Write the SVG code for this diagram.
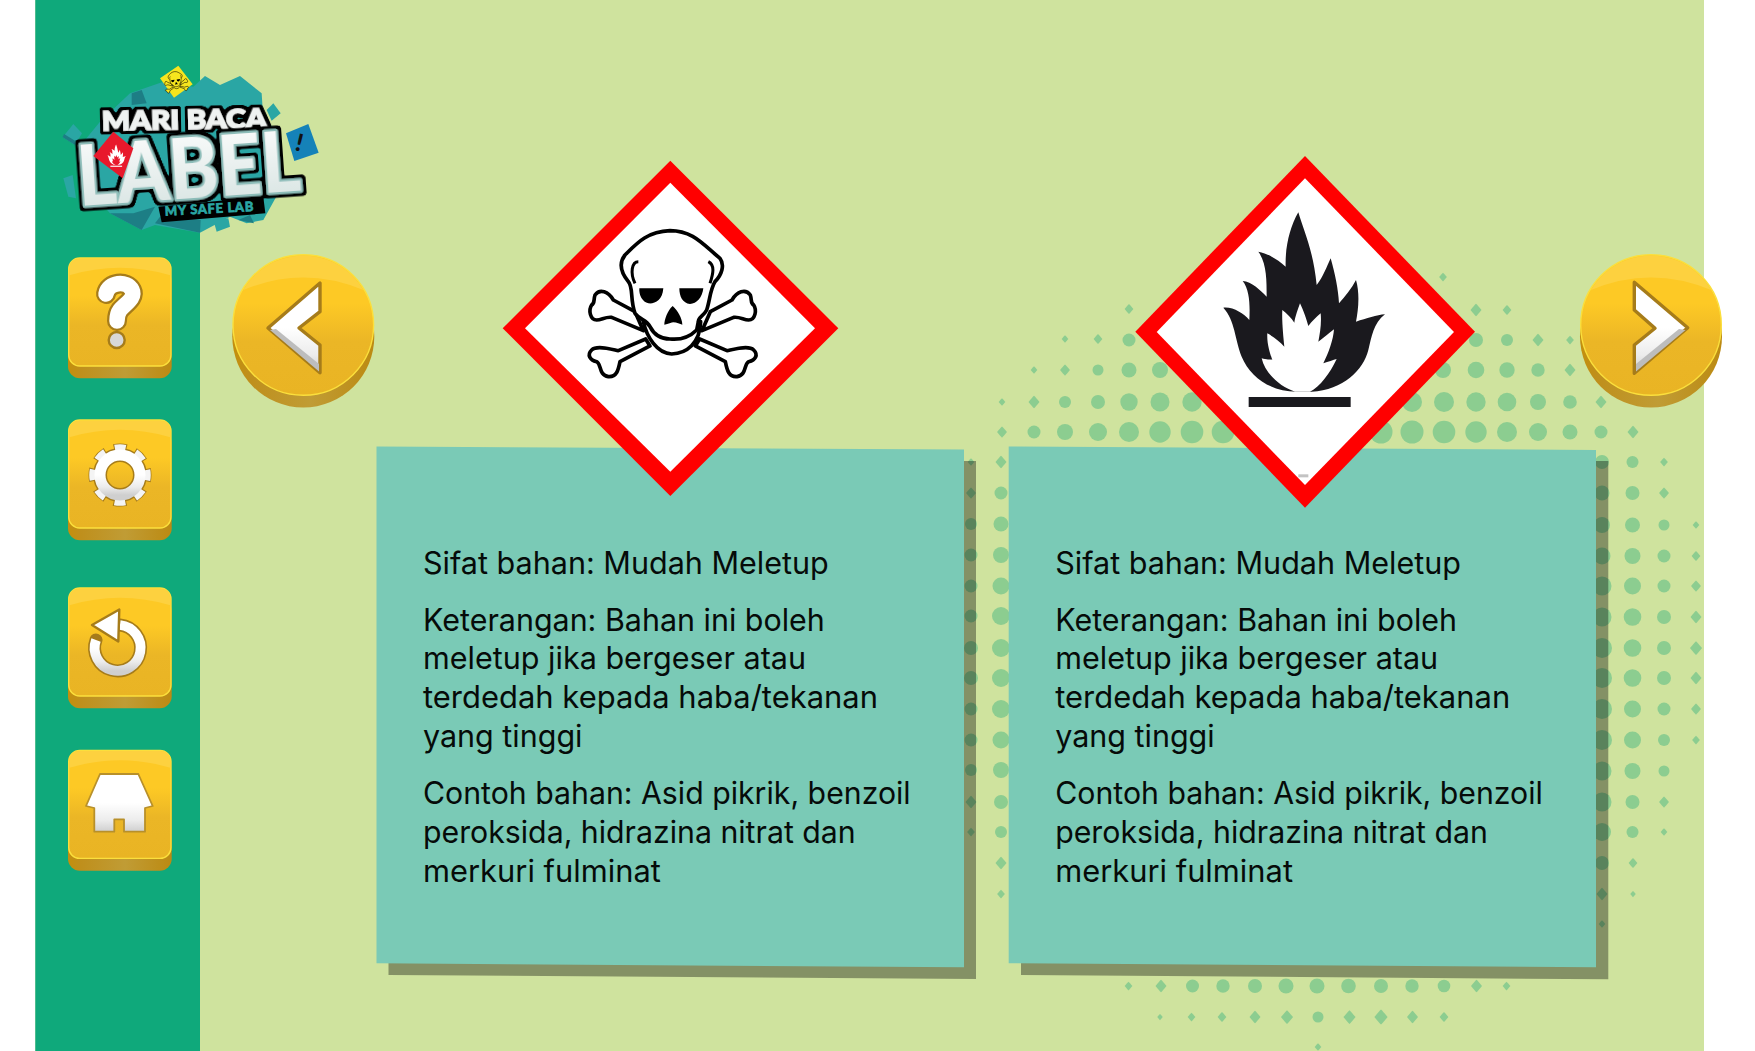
<svg xmlns="http://www.w3.org/2000/svg" width="1755" height="1051" viewBox="0 0 1755 1051">
<style>
.dots{fill:#8ccd90}
.panel{fill:#7acab6}
.shadow{fill:#000;fill-opacity:.36}
.body{font-family:"Inter","Noto Sans",sans-serif;font-size:31px;fill:#060b09}
.red{fill:#f00}
.white{fill:#fff}
.ol{stroke:#a67c1a;stroke-linejoin:round;stroke-linecap:round}
.logo{font-family:"Lato","Liberation Sans",sans-serif;font-weight:900}
.bone{fill:var(--bone,#fff);stroke:#000;stroke-width:11;stroke-linejoin:round}
.teal{fill:#2aa6a4}
.dteal{fill:#1d7e85}
</style>
<defs>
<linearGradient id="face" x1="0" y1="0" x2="0" y2="1"><stop offset="0" stop-color="#fdc925"/><stop offset=".35" stop-color="#fdc925"/><stop offset=".62" stop-color="#ebb626"/><stop offset="1" stop-color="#e9b424"/></linearGradient>
<linearGradient id="side" x1="0" y1="0" x2="1" y2="0"><stop offset="0" stop-color="#c48f0c"/><stop offset=".12" stop-color="#bf8f1c"/><stop offset=".55" stop-color="#c09c35"/><stop offset="1" stop-color="#bc8a12"/></linearGradient>
<linearGradient id="ic" x1="0" y1="0" x2="0" y2="1"><stop offset="0" stop-color="#fff"/><stop offset=".5" stop-color="#fff"/><stop offset=".8" stop-color="#ececec"/><stop offset="1" stop-color="#cfcfcf"/></linearGradient>
<linearGradient id="lbf" x1="0" y1="0" x2="0" y2="1"><stop offset="0" stop-color="#fff"/><stop offset="1" stop-color="#d5e2e0"/></linearGradient>
<path id="d" d="M0-1.25Q.3-1 1.1 0 .3 1 0 1.25-.3 1-1.1 0-.3-1 0-1.25Z"/>
<g id="btn">
<rect y="12" width="103.7" height="109" rx="12" fill="url(#side)"/>
<rect x=".7" y=".7" width="102.3" height="108" rx="11" fill="url(#face)" stroke="#fbdf3c" stroke-width="1.4"/>
<path d="M1.4 18V12Q1.4 1.4 12 1.4H92Q102.3 1.4 102.3 12V18Q52 3 1.4 18Z" fill="#fdd13f"/>
</g>
<g id="rb">
<circle cy="11.5" r="71" fill="url(#side)"/>
<circle r="70.3" fill="url(#face)" stroke="#fbdf3c" stroke-width="1.4"/>
<path d="M-60-35A69.5 69.5 0 0 1 60-35Q0-60-60-35Z" fill="#fdd13f"/>
</g>
<g id="skull">
<path class="bone" d="M465 515L400 480C385 455 360 445 345 465C340 480 345 490 335 495C325 510 330 540 350 540C365 540 375 530 395 532L490 572Z"/>
<path class="bone" transform="translate(1156 0) scale(-1 1)" d="M465 515L400 480C385 455 360 445 345 465C340 480 345 490 335 495C325 510 330 540 350 540C365 540 375 530 395 532L490 572Z"/>
<path class="bone" d="M497 597L415 632C395 628 350 615 335 630C320 645 330 660 350 665C365 672 355 705 385 710C410 712 415 690 420 665L510 618Z"/>
<path class="bone" transform="translate(1156 0) scale(-1 1)" d="M497 597L415 632C395 628 350 615 335 630C320 645 330 660 350 665C365 672 355 705 385 710C410 712 415 690 420 665L510 618Z"/>
<path class="bone" d="M490 545C500 590 530 640 575 642C620 640 660 610 662 545Z"/>
<path class="bone" d="M465 520C450 480 460 440 445 425C425 400 415 370 435 345C470 310 500 275 570 272C640 272 670 315 720 355C735 375 725 405 705 425C690 450 690 480 680 510C670 530 655 530 655 545L650 570C630 590 600 600 570 597C540 597 520 580 510 560C500 540 480 540 465 520Z"/>
<path d="M475 365C455 365 450 400 465 430M685 365C705 375 700 400 690 430" fill="none" stroke="#000" stroke-width="9"/>
<path d="M478 445L550 445C547 482 525 492 505 490C488 487 476 465 478 445ZM598 445L670 445C667 472 650 492 630 492C608 490 598 470 598 445ZM578 498C563 510 553 540 553 554C565 552 575 547 580 547C590 547 600 552 607 554C607 535 592 510 578 498Z"/>
</g>
<path id="flame" d="M340 503C370 500 400 520 418 540C420 500 420 450 398 423C425 425 450 450 470 470C470 420 470 370 445 335C475 340 505 360 527 380C525 320 540 260 565 217C580 270 610 330 620 435C640 410 650 380 662 355C675 400 685 450 687 490C705 470 725 445 738 420C750 460 745 510 738 545C770 535 800 525 825 523C790 550 785 590 775 630C760 690 700 750 605 755L560 755C480 755 420 710 395 650C375 600 375 540 340 503Z"/>
<path id="flamein" d="M555 755C510 740 465 700 455 655C470 660 485 658 487 660C480 640 470 610 472 580C490 590 510 605 523 620C520 590 515 540 517 510C530 520 545 535 553 548C555 530 565 505 570 490C580 510 590 540 595 558C605 545 620 530 632 520C635 550 630 580 625 605C640 595 655 580 672 568C670 600 655 640 640 670C655 665 670 660 680 657C660 700 630 740 600 755Z"/>
<filter id="halo" x="-15%" y="-30%" width="130%" height="160%">
<feMorphology in="SourceAlpha" operator="dilate" radius="9"/>
<feGaussianBlur stdDeviation="3"/>
<feComponentTransfer result="h"><feFuncA type="linear" slope="6" intercept="-2"/></feComponentTransfer>
<feMerge><feMergeNode in="h"/><feMergeNode in="SourceGraphic"/></feMerge>
</filter>
</defs>

<g id="background">
<rect width="1755" height="1051" fill="#fff"/>
<rect x="35.3" width="1668.7" height="1051" fill="#cfe39e"/>
<rect x="35.3" width="164.7" height="1051" fill="#0fa97b"/>
</g>

<g id="halftone" class="dots">
<use href="#d" transform="translate(1443 277) scale(3.5)"/>
<use href="#d" transform="translate(1129 309) scale(4)"/><use href="#d" transform="translate(1476 310) scale(5)"/><use href="#d" transform="translate(1507 310) scale(4)"/>
<use href="#d" transform="translate(1065 339) scale(3)"/><use href="#d" transform="translate(1098 339) scale(4)"/><circle cx="1129" cy="340" r="6.5"/><circle cx="1476" cy="340" r="7"/><circle cx="1507" cy="340" r="6"/><use href="#d" transform="translate(1538 340) scale(5)"/><use href="#d" transform="translate(1570 340) scale(3.5)"/>
<use href="#d" transform="translate(1034 370) scale(3)"/><use href="#d" transform="translate(1065 370) scale(4.5)"/><circle cx="1098" cy="370" r="5.5"/><circle cx="1129" cy="370" r="7.5"/><circle cx="1160" cy="370" r="8"/><circle cx="1443" cy="370" r="8"/><circle cx="1476" cy="370" r="8.3"/><circle cx="1507" cy="370" r="7.7"/><circle cx="1538" cy="370" r="6.7"/><use href="#d" transform="translate(1570 370) scale(5)"/>
<use href="#d" transform="translate(1002 402) scale(3)"/><use href="#d" transform="translate(1034 402) scale(5)"/><circle cx="1065" cy="402" r="6"/><circle cx="1098" cy="402" r="7"/><circle cx="1129" cy="402" r="8.7"/><circle cx="1160" cy="402" r="9.5"/><circle cx="1192" cy="402" r="9.7"/><circle cx="1412" cy="402" r="10"/><circle cx="1444" cy="402" r="10"/><circle cx="1476" cy="402" r="9.7"/><circle cx="1507" cy="402" r="9.3"/><circle cx="1538" cy="402" r="8"/><circle cx="1570" cy="402" r="6.8"/><use href="#d" transform="translate(1601 402) scale(5)"/>
<use href="#d" transform="translate(1002 432) scale(4.5)"/><circle cx="1034" cy="432" r="6.5"/><circle cx="1065" cy="432" r="8"/><circle cx="1098" cy="432" r="9"/><circle cx="1129" cy="432" r="10"/><circle cx="1160" cy="432" r="10.7"/><circle cx="1192" cy="432" r="11.3"/><circle cx="1223" cy="432" r="11.3"/><circle cx="1381" cy="432" r="11.5"/><circle cx="1412" cy="432" r="11.5"/><circle cx="1444" cy="432" r="11.3"/><circle cx="1476" cy="432" r="10.7"/><circle cx="1507" cy="432" r="10"/><circle cx="1538" cy="432" r="9"/><circle cx="1570" cy="432" r="7.5"/><circle cx="1601" cy="432" r="6.5"/><use href="#d" transform="translate(1633 432) scale(5)"/>
<use href="#d" transform="translate(971 462) scale(3)"/><use href="#d" transform="translate(971 493) scale(4.5)"/><circle cx="971" cy="524" r="6"/><circle cx="971" cy="555" r="6.5"/><circle cx="971" cy="586" r="6.5"/><circle cx="971" cy="616" r="6.5"/><circle cx="971" cy="648" r="7"/><circle cx="971" cy="678" r="7"/><circle cx="971" cy="709" r="6.5"/><circle cx="971" cy="740" r="6.5"/><circle cx="971" cy="770" r="6"/><use href="#d" transform="translate(971 802) scale(5)"/><use href="#d" transform="translate(971 832) scale(3.5)"/>
<use href="#d" transform="translate(1001 462) scale(5)"/><circle cx="1001" cy="493" r="6.5"/><circle cx="1001" cy="524" r="7.5"/><circle cx="1001" cy="555" r="8"/><circle cx="1001" cy="586" r="8.5"/><circle cx="1001" cy="616" r="9"/><circle cx="1001" cy="648" r="9"/><circle cx="1001" cy="678" r="9"/><circle cx="1001" cy="709" r="9"/><circle cx="1001" cy="740" r="8.5"/><circle cx="1001" cy="770" r="8"/><circle cx="1001" cy="802" r="7"/><circle cx="1001" cy="832" r="6"/><use href="#d" transform="translate(1001 863) scale(5)"/><use href="#d" transform="translate(1001 894) scale(3.5)"/>
<circle cx="1602" cy="462" r="7"/><circle cx="1602" cy="493" r="7.5"/><circle cx="1602" cy="525" r="8"/><circle cx="1602" cy="556" r="8.5"/><circle cx="1602" cy="586" r="9.5"/><circle cx="1602" cy="617" r="9.5"/><circle cx="1602" cy="648" r="10"/><circle cx="1602" cy="678" r="10"/><circle cx="1602" cy="709" r="10"/><circle cx="1602" cy="740" r="10"/><circle cx="1602" cy="771" r="9.5"/><circle cx="1602" cy="802" r="9.5"/><circle cx="1602" cy="832" r="9"/><circle cx="1602" cy="863" r="7"/><use href="#d" transform="translate(1602 894) scale(5)"/><use href="#d" transform="translate(1602 924) scale(3)"/>
<circle cx="1632.5" cy="462" r="6"/><circle cx="1632.5" cy="493" r="7"/><circle cx="1632.5" cy="525" r="7.5"/><circle cx="1632.5" cy="556" r="8"/><circle cx="1632.5" cy="586" r="8.5"/><circle cx="1632.5" cy="617" r="8.8"/><circle cx="1632.5" cy="648" r="8.8"/><circle cx="1632.5" cy="678" r="8.8"/><circle cx="1632.5" cy="709" r="8.5"/><circle cx="1632.5" cy="740" r="8.5"/><circle cx="1632.5" cy="771" r="8"/><circle cx="1632.5" cy="802" r="7"/><circle cx="1632.5" cy="832" r="6"/><use href="#d" transform="translate(1633 863) scale(4)"/><use href="#d" transform="translate(1633 894) scale(2.5)"/>
<use href="#d" transform="translate(1664 462) scale(3.5)"/><use href="#d" transform="translate(1664 493) scale(4.5)"/><circle cx="1664" cy="525" r="5.5"/><circle cx="1664" cy="556" r="6.5"/><circle cx="1664" cy="586" r="6.5"/><circle cx="1664" cy="617" r="7"/><circle cx="1664" cy="648" r="7"/><circle cx="1664" cy="678" r="7"/><circle cx="1664" cy="709" r="6.5"/><circle cx="1664" cy="740" r="6"/><circle cx="1664" cy="771" r="5.5"/><use href="#d" transform="translate(1664 802) scale(4.5)"/><use href="#d" transform="translate(1664 832) scale(3)"/>
<use href="#d" transform="translate(1696 525) scale(3)"/><use href="#d" transform="translate(1696 556) scale(4)"/><use href="#d" transform="translate(1696 586) scale(4.5)"/><use href="#d" transform="translate(1696 617) scale(5)"/><use href="#d" transform="translate(1696 648) scale(5.5)"/><use href="#d" transform="translate(1696 678) scale(5)"/><use href="#d" transform="translate(1696 709) scale(4.5)"/><use href="#d" transform="translate(1696 740) scale(3.5)"/>
<use href="#d" transform="translate(1128.5 986) scale(3.5)"/><use href="#d" transform="translate(1161 986) scale(5)"/><circle cx="1192.5" cy="986" r="6.5"/><circle cx="1223" cy="986" r="6.7"/><circle cx="1255" cy="986" r="7"/><circle cx="1286" cy="986" r="7.5"/><circle cx="1317" cy="986" r="7.5"/><circle cx="1348.5" cy="986" r="7.3"/><circle cx="1381" cy="986" r="7"/><circle cx="1412" cy="986" r="6.7"/><circle cx="1444" cy="986" r="6.3"/><use href="#d" transform="translate(1476.5 986) scale(5)"/><use href="#d" transform="translate(1506.5 986) scale(3.5)"/>
<use href="#d" transform="translate(1160 1017) scale(2.5)"/><use href="#d" transform="translate(1191.5 1017) scale(3.5)"/><use href="#d" transform="translate(1222 1017) scale(4)"/><use href="#d" transform="translate(1255 1017) scale(5)"/><use href="#d" transform="translate(1287 1017) scale(5.5)"/><circle cx="1318" cy="1017" r="5.5"/><use href="#d" transform="translate(1349.5 1017) scale(5.5)"/><use href="#d" transform="translate(1381 1017) scale(6)"/><use href="#d" transform="translate(1412.5 1017) scale(5)"/><use href="#d" transform="translate(1444 1017) scale(4)"/>
<use href="#d" transform="translate(1318 1047) scale(3)"/>
</g>

<g id="logo" transform="translate(50 50) scale(.33333)">
<polygon class="teal" points="105,270 150,215 240,130 340,95 430,110 465,78 510,105 570,78 635,130 640,210 690,245 690,420 640,510 590,520 540,500 450,548 315,525 275,540 180,490 100,400"/>
<polygon class="dteal" points="180,490 275,540 315,470 250,490"/><polygon class="dteal" points="315,520 450,548 452,510 330,500"/><polygon class="dteal" points="245,130 245,165 290,160 275,120"/><polygon class="dteal" points="565,510 612,520 600,495"/>
<polygon class="teal" points="38,262 70,222 96,250 75,285"/><polygon class="dteal" points="38,262 75,285 75,272 42,252"/>
<polygon class="teal" points="670,160 692,190 665,212 650,180"/>
<polygon class="teal" points="40,385 68,375 78,445 55,440"/>
<polygon class="teal" points="490,510 535,505 540,530 500,545"/>
<polygon fill="#1582b8" points="775,222 806,308 733,333 708,250"/>
<text class="logo" x="732" y="302" font-size="72" transform="rotate(14 740 302)" fill="#111">!</text>
<text class="logo" x="155" y="236" font-size="82" textLength="495" lengthAdjust="spacingAndGlyphs" fill="#eff2f1" stroke="#eff2f1" stroke-width="4" filter="url(#halo)" transform="rotate(-1 400 210)">MARI BACA</text>
<polygon fill="#000" points="325,470 640,440 646,490 335,517"/>
<text class="logo" x="345" y="497" font-size="40" textLength="268" lengthAdjust="spacingAndGlyphs" transform="rotate(-3 345 497)" fill="#2aa6a4" stroke="#2aa6a4" stroke-width="2" letter-spacing="2">MY SAFE LAB</text>
<text class="logo" x="88" y="468" font-size="250" textLength="670" lengthAdjust="spacingAndGlyphs" fill="url(#lbf)" stroke="#8dbdb9" stroke-width="14" stroke-linejoin="round" paint-order="stroke" filter="url(#halo)" transform="rotate(-4 88 468)">LABEL</text>
<polygon fill="#f7e51e" points="385,47 428,103 372,143 330,85"/>
<use href="#skull" style="--bone:#f7e51e" transform="translate(378 95) rotate(-8) scale(.14) translate(-578 -490)"/>
<polygon fill="#e8192c" points="190,245 250,295 218,385 130,318"/>
<g fill="#fff" transform="translate(200 317) scale(.115) translate(-580 -510)"><use href="#flame"/><use href="#flamein" fill="#e8192c"/><rect x="416" y="771" width="306" height="30"/></g>
</g>

<g id="btn-help"><use href="#btn" transform="translate(68 257.3)"/>
<path d="M106 294C108 282 127 280 132 290C136 298 125 304 120 310C117 314 117 318 117 321" fill="none" class="ol" stroke-width="20"/>
<circle cx="116.7" cy="340" r="8" fill="#d8d8d8" class="ol" stroke-width="2.4"/>
<path d="M106 294C108 282 127 280 132 290C136 298 125 304 120 310C117 314 117 318 117 321" fill="none" stroke="#fff" stroke-width="15.5" stroke-linecap="round" stroke-linejoin="round"/>
</g>
<g id="btn-settings"><use href="#btn" transform="translate(68 419.3)"/>
<circle cx="120" cy="475" r="20" fill="none" class="ol" stroke-width="14"/>
<circle cx="120" cy="475" r="27.5" fill="none" stroke="#a67c1a" stroke-width="8" stroke-dasharray="12.8 8.8" stroke-dashoffset="6.4"/>
<circle cx="120" cy="475" r="27.5" fill="none" stroke="#f4f4f4" stroke-width="6.5" stroke-dasharray="10.8 10.8" stroke-dashoffset="5.4"/>
<circle cx="120" cy="475" r="20" fill="none" stroke="url(#ic)" stroke-width="11"/>
</g>
<g id="btn-replay"><use href="#btn" transform="translate(68 587.3)"/>
<path d="M96 640A23 23 0 1 0 120 625" fill="none" class="ol" stroke-width="13"/>
<path d="M96 640A23 23 0 1 0 120 625" fill="none" stroke="url(#ic)" stroke-width="9.8"/>
<polygon points="92,625 119.3,609.5 118.3,641.5" fill="#fff" class="ol" stroke-width="2.4"/>
</g>
<g id="btn-home"><use href="#btn" transform="translate(68 749.7)"/>
<path d="M100 774H138.3L152.7 806 145 808V831.7H124V819.3H114.3V831.7H94.3V808L86 806Z" fill="url(#ic)" stroke="#b8902a" stroke-linejoin="round" stroke-width="1.8"/>
</g>

<g id="prev"><use href="#rb" transform="translate(303.3 325)"/>
<path d="M320 283V311.7L299 328 320 345V372.7L268 328Z" fill="url(#ic)" class="ol" stroke-width="3.4"/>
<path d="M270 330L319 371.5V364L276 329Z" fill="#bdbdbd"/>
</g>

<g id="card-1">
<polygon class="shadow" points="388.5,461 976,461 976,979 388.5,975"/>
<polygon class="panel" points="376.5,446.5 964,449.5 964,967.3 376.5,963.3"/>
<g id="card-1-text" class="body">
<text x="423" y="573.6" textLength="405.8" lengthAdjust="spacingAndGlyphs">Sifat bahan: Mudah Meletup</text>
<text x="423" y="630.7" textLength="401.8" lengthAdjust="spacingAndGlyphs">Keterangan: Bahan ini boleh</text>
<text x="423" y="669.3" textLength="383" lengthAdjust="spacingAndGlyphs">meletup jika bergeser atau</text>
<text x="423" y="708.3" textLength="455" lengthAdjust="spacingAndGlyphs">terdedah kepada haba/tekanan</text>
<text x="423" y="746.7" textLength="159.5" lengthAdjust="spacingAndGlyphs">yang tinggi</text>
<text x="423" y="804" textLength="487.7" lengthAdjust="spacingAndGlyphs">Contoh bahan: Asid pikrik, benzoil</text>
<text x="423" y="843.3" textLength="432.7" lengthAdjust="spacingAndGlyphs">peroksida, hidrazina nitrat dan</text>
<text x="423" y="881.7" textLength="237.8" lengthAdjust="spacingAndGlyphs">merkuri fulminat</text>
</g>
</g>

<g id="card-2">
<polygon class="shadow" points="1021,461 1608.3,461 1608.3,979.3 1021,975"/>
<polygon class="panel" points="1008.7,446.5 1596,450 1596,967.3 1008.7,963.3"/>
<g id="card-2-text" class="body">
<text x="1055.2" y="573.6" textLength="405.8" lengthAdjust="spacingAndGlyphs">Sifat bahan: Mudah Meletup</text>
<text x="1055.2" y="630.7" textLength="401.8" lengthAdjust="spacingAndGlyphs">Keterangan: Bahan ini boleh</text>
<text x="1055.2" y="669.3" textLength="383" lengthAdjust="spacingAndGlyphs">meletup jika bergeser atau</text>
<text x="1055.2" y="708.3" textLength="455" lengthAdjust="spacingAndGlyphs">terdedah kepada haba/tekanan</text>
<text x="1055.2" y="746.7" textLength="159.5" lengthAdjust="spacingAndGlyphs">yang tinggi</text>
<text x="1055.2" y="804" textLength="487.7" lengthAdjust="spacingAndGlyphs">Contoh bahan: Asid pikrik, benzoil</text>
<text x="1055.2" y="843.3" textLength="432.7" lengthAdjust="spacingAndGlyphs">peroksida, hidrazina nitrat dan</text>
<text x="1055.2" y="881.7" textLength="237.8" lengthAdjust="spacingAndGlyphs">merkuri fulminat</text>
</g>
</g>

<g id="ghs-skull">
<polygon class="red" points="670.3,160.7 838.3,328.3 670.3,496 502.7,328.3"/>
<polygon class="white" points="670.3,182.7 815,328.3 670.3,471.7 525,328.3"/>
<use href="#skull" transform="translate(480 140) scale(.33333)"/>
</g>

<g id="ghs-flame">
<polygon class="red" points="1305,156 1475,331.7 1305,507.7 1135.3,331.7"/>
<polygon class="white" points="1305,178.3 1454,332 1305,485 1156.7,332"/>
<g transform="translate(1110 140) scale(.33333)">
<use href="#flame" fill="#1a191e"/><use href="#flamein" fill="#fff"/>
<rect x="416" y="771" width="306" height="30" fill="#1a191e"/>
<rect x="565" y="1003" width="30" height="9" fill="#888" opacity=".5"/>
</g>
</g>

<g id="next"><use href="#rb" transform="translate(1651 325)"/>
<path d="M1634.3 282.3L1687.7 327.7 1634.3 373.3V345L1655 328.3 1634.3 310Z" fill="url(#ic)" class="ol" stroke-width="3.4"/>
<path d="M1685.5 330L1636 371.5V364L1679 329Z" fill="#bdbdbd"/>
</g>
</svg>
